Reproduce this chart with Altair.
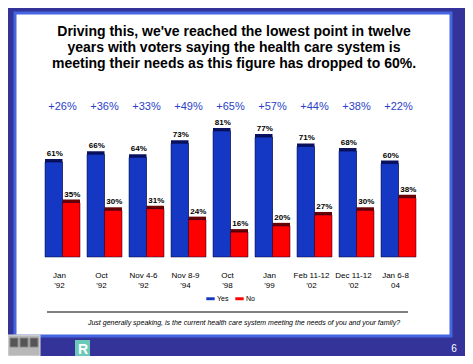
import altair as alt
import pandas as pd

dates = ["Jan '92", "Oct '92", "Nov 4-6 '92", "Nov 8-9 '94", "Oct '98", "Jan '99",
         "Feb 11-12 '02", "Dec 11-12 '02", "Jan 6-8 04"]
date_labels = ["Jan\n'92", "Oct\n'92", "Nov 4-6\n'92", "Nov 8-9\n'94", "Oct\n'98", "Jan\n'99",
               "Feb 11-12\n'02", "Dec 11-12\n'02", "Jan 6-8\n04"]
yes_vals = [61, 66, 64, 73, 81, 77, 71, 68, 60]
no_vals = [35, 30, 31, 24, 16, 20, 27, 30, 38]
deltas = ["+26%", "+36%", "+33%", "+49%", "+65%", "+57%", "+44%", "+38%", "+22%"]
series = ["Yes", "No"]
title_text = ("Driving this, we've reached the lowest point in twelve\n"
              "years with voters saying the health care system is\n"
              "meeting their needs as this figure has dropped to 60%.")
question = "Just generally speaking, is the current health care system meeting the needs of you and your family?"
page_no = "6"

rows = []
for d, y, n in zip(dates, yes_vals, no_vals):
    rows.append({"date": d, "series": "Yes", "value": y, "label": f"{y}%"})
    rows.append({"date": d, "series": "No", "value": n, "label": f"{n}%"})
df = pd.DataFrame(rows)
ddf = pd.DataFrame({"date": dates, "delta": deltas, "dlabel": date_labels})
one = pd.DataFrame({"a": [0]})

FONT = "Liberation Sans"
xs = alt.Scale(domain=dates, range=[37, 408], paddingInner=0.1667, paddingOuter=0)
X = alt.X("date:N", sort=dates, scale=xs, axis=None)
XO = alt.XOffset("series:N", sort=series, scale=alt.Scale(domain=series, paddingInner=0, paddingOuter=0))
Y = alt.Y("value:Q", scale=alt.Scale(domain=[0, 100], range=[249, 93.3]), axis=None)

panel = alt.Chart(one).mark_rect(fill="white", stroke="#4466e0", strokeWidth=3).encode(
    x=alt.value(7), x2=alt.value(443), y=alt.value(5), y2=alt.value(328))

title = alt.Chart(one).mark_text(font=FONT, fontSize=14, fontWeight="bold", lineBreak="\n",
                                 lineHeight=16, align="center", baseline="top", color="black").encode(
    x=alt.value(226), y=alt.value(17), text=alt.value(title_text))

shadow = alt.Chart(df).mark_bar(xOffset=3, x2Offset=3, yOffset=-3, y2Offset=-3).encode(
    x=X, xOffset=XO, y=Y,
    color=alt.condition(alt.datum.series == "Yes", alt.value("#0a1260"), alt.value("#6a0000")))

bars = alt.Chart(df).mark_bar(stroke="#000033", strokeWidth=0.5).encode(
    x=X, xOffset=XO, y=Y,
    color=alt.Color("series:N", sort=series,
                    scale=alt.Scale(domain=series, range=["#1438c4", "#ff0000"]),
                    legend=alt.Legend(orient="none", legendX=198, legendY=286, direction="horizontal",
                                      title=None, symbolType="M-1,-0.35H1V0.35H-1Z", symbolSize=70,
                                      labelFontSize=7, labelFont=FONT, columnPadding=6,
                                      symbolStrokeWidth=0, labelOffset=2)))

vlabels = alt.Chart(df).mark_text(font=FONT, fontSize=8, fontWeight="bold", dy=-8, dx=1,
                                  color="black").encode(
    x=X, xOffset=XO, y=Y, text="label:N")

dlabels = alt.Chart(ddf).mark_text(font=FONT, fontSize=11, color="#2a3fc8").encode(
    x=X, y=alt.value(99), text="delta:N")

xlabels = alt.Chart(ddf).mark_text(font=FONT, fontSize=8, color="black", lineBreak="\n",
                                   lineHeight=10, baseline="middle", dx=-3).encode(
    x=X, y=alt.value(268), text="dlabel:N")

hrule = alt.Chart(one).mark_rule(color="black", strokeWidth=1).encode(
    x=alt.value(39), x2=alt.value(400), y=alt.value(304))

qtext = alt.Chart(one).mark_text(font=FONT, fontSize=7, fontStyle="italic", color="black").encode(
    x=alt.value(236), y=alt.value(315), text=alt.value(question))

pnum = alt.Chart(one).mark_text(font=FONT, fontSize=10, color="white", baseline="bottom").encode(
    x=alt.value(446), y=alt.value(346), text=alt.value(page_no))

logo_box = alt.Chart(one).mark_rect(fill="#b8b8b8", stroke="#dddddd", strokeWidth=1).encode(
    x=alt.value(0), x2=alt.value(32), y=alt.value(327), y2=alt.value(348))
logo_sq = [alt.Chart(one).mark_rect(fill="#555555", stroke="#888888").encode(
    x=alt.value(2 + i * 10), x2=alt.value(10 + i * 10), y=alt.value(330), y2=alt.value(339)) for i in range(3)]
logo_r = alt.Chart(one).mark_rect(fill="#6cc9b8").encode(
    x=alt.value(67), x2=alt.value(82), y=alt.value(332), y2=alt.value(350))
logo_rt = alt.Chart(one).mark_text(font=FONT, fontSize=14, fontWeight="bold", color="white").encode(
    x=alt.value(75), y=alt.value(342), text=alt.value("R"))

chart = alt.layer(panel, title, hrule, shadow, bars, vlabels, dlabels, xlabels, qtext, pnum,
                  logo_box, *logo_sq, logo_r, logo_rt).properties(
    width=457, height=348, padding=0, autosize=alt.AutoSizeParams(type="none"),
    background="#333399"
).configure_view(stroke=None)

chart.save("out.html", embed_options={"renderer": "svg", "actions": False})
